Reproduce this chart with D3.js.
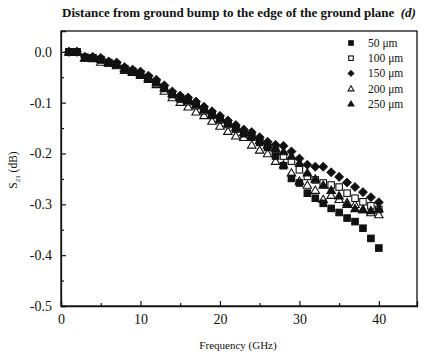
<!DOCTYPE html>
<html>
<head>
<meta charset="utf-8">
<script src="https://cdn.jsdelivr.net/npm/d3@7"></script>
<style>
  body { margin: 0; background: #fff; }
  text { font-family: "Liberation Serif", "DejaVu Serif", serif; fill: #111; }
</style>
</head>
<body>
<div id="chart"></div>
<script>
// frequency points (GHz)
var freq = [1, 2, 3, 4, 5, 6, 7, 8, 9, 10, 11, 12, 13, 14, 15, 16, 17, 18, 19, 20,
            21, 22, 23, 24, 25, 26, 27, 28, 29, 30, 31, 32, 33, 34, 35, 36, 37, 38, 39, 40]

// S21 (dB) for each distance d
var s50 = [0.000, 0.000, -0.011, -0.012, -0.015, -0.021, -0.025, -0.033, -0.038, -0.043,
           -0.051, -0.060, -0.071, -0.083, -0.091, -0.096, -0.104, -0.114, -0.123, -0.132,
           -0.141, -0.150, -0.160, -0.166, -0.176, -0.187, -0.205, -0.224, -0.249, -0.258,
           -0.278, -0.288, -0.298, -0.308, -0.316, -0.327, -0.334, -0.347, -0.367, -0.386]
var s100 = [0.000, 0.000, -0.011, -0.012, -0.016, -0.022, -0.025, -0.034, -0.039, -0.044,
            -0.052, -0.061, -0.072, -0.084, -0.093, -0.098, -0.106, -0.116, -0.125, -0.134,
            -0.143, -0.152, -0.161, -0.168, -0.178, -0.188, -0.195, -0.205, -0.215, -0.232,
            -0.245, -0.252, -0.258, -0.262, -0.266, -0.278, -0.288, -0.295, -0.303, -0.310]
var s150 = [0.000, 0.000, -0.010, -0.010, -0.012, -0.019, -0.021, -0.030, -0.035, -0.039,
            -0.047, -0.055, -0.066, -0.078, -0.086, -0.090, -0.098, -0.108, -0.117, -0.126,
            -0.135, -0.144, -0.153, -0.158, -0.168, -0.177, -0.183, -0.185, -0.196, -0.210,
            -0.222, -0.226, -0.226, -0.237, -0.246, -0.257, -0.266, -0.276, -0.286, -0.296]
var s200 = [0.000, 0.000, -0.012, -0.013, -0.020, -0.022, -0.027, -0.036, -0.040, -0.046,
            -0.054, -0.064, -0.077, -0.090, -0.099, -0.108, -0.118, -0.125, -0.136, -0.146,
            -0.156, -0.165, -0.168, -0.183, -0.193, -0.200, -0.215, -0.222, -0.238, -0.254,
            -0.262, -0.272, -0.290, -0.282, -0.290, -0.296, -0.300, -0.310, -0.316, -0.320]
var s250 = [0.000, 0.000, -0.011, -0.011, -0.014, -0.021, -0.024, -0.032, -0.038, -0.042,
            -0.050, -0.059, -0.070, -0.082, -0.090, -0.095, -0.103, -0.113, -0.122, -0.131,
            -0.140, -0.149, -0.158, -0.164, -0.174, -0.183, -0.190, -0.196, -0.205, -0.218,
            -0.238, -0.250, -0.262, -0.272, -0.283, -0.300, -0.308, -0.310, -0.312, -0.308]

var seriesNames = ["50 \u03bcm", "100 \u03bcm", "150 \u03bcm", "200 \u03bcm", "250 \u03bcm"]
var seriesValues = [s50, s100, s150, s200, s250]
var seriesShapes = ["square", "squareOpen", "diamond", "triangleOpen", "triangle"]

var xTicks = [0, 10, 20, 30, 40]
var yTicks = [0.0, -0.1, -0.2, -0.3, -0.4, -0.5]

var width = 430, height = 357
var margin = {left: 61, right: 13, top: 31, bottom: 51}

var svg = d3.select("#chart")
    .append("svg")
    .attr("width", width)
    .attr("height", height)

var x = d3.scaleLinear().domain([0, 44.8]).range([margin.left, width - margin.right])
var y = d3.scaleLinear().domain([-0.5, 0.041]).range([height - margin.bottom, margin.top])

// frame
svg.append("rect")
    .attr("x", margin.left)
    .attr("y", margin.top)
    .attr("width", width - margin.right - margin.left)
    .attr("height", height - margin.bottom - margin.top)
    .style("fill", "none")
    .style("stroke", "#111")
    .style("stroke-width", 1.3)

// x axis
svg.append("g")
    .attr("transform", "translate(0," + (height - margin.bottom) + ")")
    .call(d3.axisBottom(x).tickValues(xTicks).tickSize(-5).tickPadding(8).tickFormat(d3.format("d")))
svg.append("g")
    .attr("transform", "translate(0," + (height - margin.bottom) + ")")
    .call(d3.axisBottom(x).tickValues([5, 15, 25, 35]).tickSize(-3).tickFormat(""))
    .call(function (g) { g.select(".domain").remove() })

// y axis
svg.append("g")
    .attr("transform", "translate(" + margin.left + ",0)")
    .call(d3.axisLeft(y).tickValues(yTicks).tickSize(-5).tickPadding(9).tickFormat(d3.format(".1f")))
svg.append("g")
    .attr("transform", "translate(" + margin.left + ",0)")
    .call(d3.axisLeft(y).tickValues([-0.05, -0.15, -0.25, -0.35, -0.45]).tickSize(-3).tickFormat(""))
    .call(function (g) { g.select(".domain").remove() })

svg.selectAll(".domain").style("stroke", "#111").style("stroke-width", 1.3)
svg.selectAll(".tick line").style("stroke", "#111").style("stroke-width", 1.2)
svg.selectAll(".tick text")
    .style("font-family", "'Liberation Serif', serif")
    .style("font-size", "14px")
    .style("fill", "#111")
    .text(function () { return d3.select(this).text().replace("\u2212", "-") })

// titles
svg.append("text")
    .attr("x", 239)
    .attr("y", 17)
    .attr("text-anchor", "middle")
    .style("font-size", "13px")
    .style("font-weight", "bold")
    .text("Distance from ground bump to the edge of the ground plane\u00a0\u00a0")
    .append("tspan")
    .style("font-style", "italic")
    .text("(d)")

svg.append("text")
    .attr("x", 238)
    .attr("y", 349)
    .attr("text-anchor", "middle")
    .style("font-size", "11px")
    .text("Frequency (GHz)")

var yLabel = svg.append("text")
    .attr("transform", "translate(17,170) rotate(-90)")
    .attr("text-anchor", "middle")
    .style("font-size", "11.5px")
yLabel.append("tspan").text("S")
yLabel.append("tspan").attr("dy", 3).style("font-size", "7px").text("21")
yLabel.append("tspan").attr("dy", -3).text(" (dB)")

// marker drawing
function drawMarker(sel, shape, size) {
    var s = size
    if (shape === "square" || shape === "squareOpen") {
        sel.append("rect")
            .attr("x", -s / 2).attr("y", -s / 2)
            .attr("width", s).attr("height", s)
            .style("fill", shape === "square" ? "#111" : "#fff")
            .style("stroke", "#111")
            .style("stroke-width", 1.1)
    } else if (shape === "diamond") {
        var r = s * 0.7
        sel.append("path")
            .attr("d", "M0," + (-r) + "L" + r + ",0L0," + r + "L" + (-r) + ",0Z")
            .style("fill", "#111")
            .style("stroke", "#111")
            .style("stroke-width", 0.8)
    } else {
        var h = s * 0.62
        sel.append("path")
            .attr("d", "M0," + (-h) + "L" + (h * 1.05) + "," + (h * 0.8) + "L" + (-h * 1.05) + "," + (h * 0.8) + "Z")
            .style("fill", shape === "triangle" ? "#111" : "#fff")
            .style("stroke", "#111")
            .style("stroke-width", 1.1)
    }
}

// points (draw order so the solid markers sit on top)
var drawOrder = [3, 1, 0, 4, 2]
drawOrder.forEach(function (i) {
    var pts = freq.map(function (f, k) { return {f: f, v: seriesValues[i][k]} })
    var g = svg.append("g").attr("class", "series-" + i)
    g.selectAll("g")
        .data(pts)
        .enter()
        .append("g")
        .attr("transform", function (d) { return "translate(" + x(d.f) + "," + y(d.v) + ")" })
        .each(function () { drawMarker(d3.select(this), seriesShapes[i], 6.5) })
})

// legend
var legend = svg.append("g").attr("class", "legend")
seriesNames.forEach(function (name, i) {
    var row = legend.append("g").attr("transform", "translate(0," + (47 + i * 15.2) + ")")
    var m = row.append("g").attr("transform", "translate(351,-4)")
    drawMarker(m, seriesShapes[i], 4.5)
    row.append("text")
        .attr("x", 368)
        .attr("y", 0)
        .style("font-size", "11.5px")
        .text(name)
})
</script>
</body>
</html>
